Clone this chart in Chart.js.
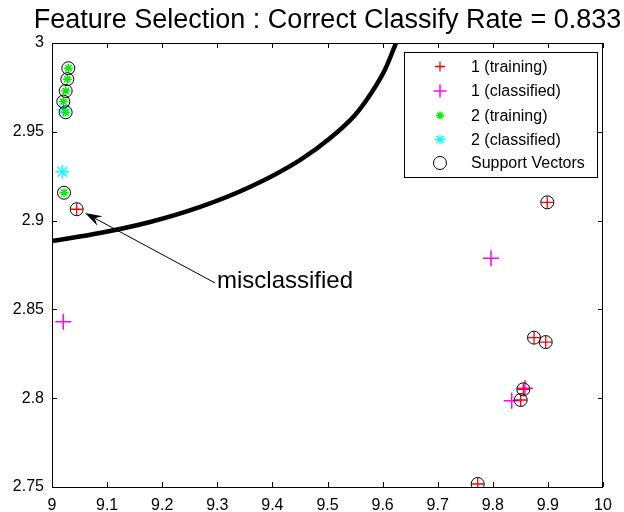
<!DOCTYPE html>
<html>
<head>
<meta charset="utf-8">
<script src="https://cdn.jsdelivr.net/npm/chart.js@4.4.1/dist/chart.umd.min.js"></script>
<style>
  html, body { margin: 0; padding: 0; background: #fff; }
  #wrap { width: 624px; height: 512px; }
</style>
</head>
<body>
<div id="wrap"><canvas id="c" width="624" height="512"></canvas></div>
<script>
// Class 1 training samples (red +)
const class1TrainX = [9.0448, 9.8989, 9.8748, 9.8960, 9.8554, 9.8506, 9.7726];
const class1TrainY = [2.9064, 2.9103, 2.8341, 2.8316, 2.8050, 2.7990, 2.7517];
// Class 1 classified samples (magenta +)
const class1ClassX = [9.0205, 9.7967, 9.8584, 9.8343];
const class1ClassY = [2.8431, 2.8788, 2.8056, 2.7986];
// Class 2 training samples (green *)
const class2TrainX = [9.0296, 9.0278, 9.0248, 9.0205, 9.0248, 9.0218];
const class2TrainY = [2.9858, 2.9796, 2.9730, 2.9670, 2.9610, 2.9157];
// Class 2 classified samples (cyan *)
const class2ClassX = [9.0209, 9.0187];
const class2ClassY = [2.9623, 2.9275];
// Support vectors (black circles)
const supportX = [9.0448, 9.8989, 9.8748, 9.8960, 9.8554, 9.8506, 9.7726,
                  9.0296, 9.0278, 9.0248, 9.0205, 9.0248, 9.0218];
const supportY = [2.9064, 2.9103, 2.8341, 2.8316, 2.8050, 2.7990, 2.7517,
                  2.9858, 2.9796, 2.9730, 2.9670, 2.9610, 2.9157];
// SVM decision boundary
const boundaryX = [9.000, 9.087, 9.178, 9.269, 9.359, 9.450, 9.505, 9.550, 9.577, 9.604, 9.623, 9.632];
const boundaryY = [2.8885, 2.8930, 2.8992, 2.9077, 2.9189, 2.9341, 2.9465, 2.9595, 2.9707, 2.9848, 2.9989, 3.0056];
// Axis ticks
const xTicks = [9, 9.1, 9.2, 9.3, 9.4, 9.5, 9.6, 9.7, 9.8, 9.9, 10];
const yTicks = [2.75, 2.8, 2.85, 2.9, 2.95, 3];
const xTickLabels = ['9', '9.1', '9.2', '9.3', '9.4', '9.5', '9.6', '9.7', '9.8', '9.9', '10'];
const yTickLabels = ['2.75', '2.8', '2.85', '2.9', '2.95', '3'];
// Legend entries
const legendLabels = ['1 (training)', '1 (classified)', '2 (training)', '2 (classified)', 'Support Vectors'];
// Arrow annotation: tip, tail and text anchor (data units)
const arrowTip = [9.0599, 2.9043];
const arrowTail = [9.2958, 2.8649];
const noteAnchor = [9.2995, 2.8660];
const noteText = 'misclassified';
const titleText = 'Feature Selection : Correct Classify Rate = 0.833';

const FONT = '"Liberation Sans", Arial, Helvetica, sans-serif';
const pts = (xs, ys) => xs.map((x, i) => ({ x: x, y: ys[i] }));

const datasets = [
  { label: legendLabels[0], data: pts(class1TrainX, class1TrainY), pointStyle: 'cross',
    radius: 6, borderColor: '#ff0000', borderWidth: 1.3, backgroundColor: '#ff0000', order: 1 },
  { label: legendLabels[1], data: pts(class1ClassX, class1ClassY), pointStyle: 'cross',
    radius: 8, borderColor: '#ff00ff', borderWidth: 1.5, backgroundColor: '#ff00ff', order: 2 },
  { label: legendLabels[2], data: pts(class2TrainX, class2TrainY), pointStyle: 'star',
    radius: 4.5, borderColor: '#00ee00', borderWidth: 1.5, backgroundColor: '#00ee00', order: 3 },
  { label: legendLabels[3], data: pts(class2ClassX, class2ClassY), pointStyle: 'star',
    radius: 7, borderColor: '#00ffff', borderWidth: 1.3, backgroundColor: '#00ffff', order: 4 },
  { label: legendLabels[4], data: pts(supportX, supportY), pointStyle: 'circle',
    radius: 6.5, borderColor: '#000000', borderWidth: 1, backgroundColor: 'rgba(0,0,0,0)', order: 0 },
  { label: 'boundary', data: pts(boundaryX, boundaryY), showLine: true, pointRadius: 0,
    borderColor: '#000000', borderWidth: 4.5, cubicInterpolationMode: 'monotone', clip: 0, order: 5 }
];

// Axes box, inward tick marks on all four sides, title, legend and annotation
const decorations = {
  id: 'decorations',
  afterDatasetsDraw(chart) {
    const { ctx, chartArea: a, scales: { x, y } } = chart;
    ctx.save();
    ctx.strokeStyle = '#000';
    ctx.lineWidth = 1;
    ctx.strokeRect(a.left + 0.5, a.top + 0.5, a.right - a.left - 1, a.bottom - a.top);
    ctx.beginPath();
    const tl = 5;
    xTicks.forEach(v => {
      const px = Math.round(x.getPixelForValue(v)) + 0.5;
      ctx.moveTo(px, a.bottom); ctx.lineTo(px, a.bottom - tl);
      ctx.moveTo(px, a.top); ctx.lineTo(px, a.top + tl);
    });
    yTicks.forEach(v => {
      const py = Math.round(y.getPixelForValue(v)) + 0.5;
      ctx.moveTo(a.left, py); ctx.lineTo(a.left + tl, py);
      ctx.moveTo(a.right, py); ctx.lineTo(a.right - tl, py);
    });
    ctx.stroke();
    ctx.restore();
  },
  afterDraw(chart) {
    const { ctx, chartArea: a, scales: { x, y } } = chart;
    ctx.save();
    // title
    ctx.fillStyle = '#000';
    ctx.font = '27px ' + FONT;
    ctx.textAlign = 'center';
    ctx.textBaseline = 'alphabetic';
    ctx.fillText(titleText, (a.left + a.right) / 2 + 0, 28);

    // annotation arrow
    const tx = x.getPixelForValue(arrowTip[0]), ty = y.getPixelForValue(arrowTip[1]);
    const sx = x.getPixelForValue(arrowTail[0]), sy = y.getPixelForValue(arrowTail[1]);
    const ang = Math.atan2(ty - sy, tx - sx);
    const ux = Math.cos(ang), uy = Math.sin(ang);
    const L = 17, W = 5.5, N = 11;
    ctx.strokeStyle = '#000';
    ctx.lineWidth = 1;
    ctx.beginPath();
    ctx.moveTo(sx, sy);
    ctx.lineTo(tx - ux * N, ty - uy * N);
    ctx.stroke();
    ctx.beginPath();
    ctx.moveTo(tx, ty);
    ctx.lineTo(tx - ux * L - uy * W, ty - uy * L + ux * W);
    ctx.lineTo(tx - ux * N, ty - uy * N);
    ctx.lineTo(tx - ux * L + uy * W, ty - uy * L - ux * W);
    ctx.closePath();
    ctx.fillStyle = '#000';
    ctx.fill();

    ctx.font = '24px ' + FONT;
    ctx.textAlign = 'left';
    ctx.textBaseline = 'middle';
    ctx.fillText(noteText, x.getPixelForValue(noteAnchor[0]), y.getPixelForValue(noteAnchor[1]));

    // legend
    const bx = 404, by = 52, bw = 193, bh = 125;
    ctx.fillStyle = '#fff';
    ctx.fillRect(bx, by, bw, bh);
    ctx.strokeStyle = '#000';
    ctx.lineWidth = 1;
    ctx.strokeRect(bx + 0.5, by + 0.5, bw, bh);
    const rows = [66.5, 91, 115.5, 139.5, 163];
    const mx = 440;
    const legendRadius = [5, 6.5, 4, 5, 6.5];
    datasets.slice(0, 5).forEach((ds, i) => {
      ctx.strokeStyle = ds.borderColor;
      ctx.fillStyle = ds.backgroundColor;
      ctx.lineWidth = ds.borderWidth;
      Chart.helpers.drawPoint(ctx, {
        pointStyle: ds.pointStyle, radius: legendRadius[i], borderWidth: ds.borderWidth, rotation: 0
      }, mx, rows[i]);
      ctx.fillStyle = '#000';
      ctx.font = '16px ' + FONT;
      ctx.textAlign = 'left';
      ctx.textBaseline = 'middle';
      ctx.fillText(ds.label, 471, rows[i] + 1);
    });
    ctx.restore();
  }
};

new Chart(document.getElementById('c'), {
  type: 'scatter',
  data: { datasets: datasets },
  options: {
    responsive: false,
    animation: false,
    layout: { padding: { top: 43, right: 21, left: 0, bottom: 0 } },
    plugins: { legend: { display: false }, tooltip: { enabled: false }, title: { display: false } },
    elements: { point: { hoverRadius: 0 } },
    scales: {
      x: {
        type: 'linear', min: 9, max: 10,
        afterBuildTicks: s => { s.ticks = xTicks.map(v => ({ value: v })); },
        afterFit: s => { s.height = 25; },
        ticks: {
          autoSkip: false, maxRotation: 0, padding: 9, color: '#000',
          font: { family: FONT, size: 16 },
          callback: (v, i) => xTickLabels[i]
        },
        grid: { display: false, drawTicks: false },
        border: { display: false }
      },
      y: {
        type: 'linear', min: 2.75, max: 3,
        afterBuildTicks: s => { s.ticks = yTicks.map(v => ({ value: v })); },
        afterFit: s => { s.width = 52; },
        ticks: {
          autoSkip: false, padding: 8, color: '#000',
          font: { family: FONT, size: 16 },
          callback: (v, i) => yTickLabels[i]
        },
        grid: { display: false, drawTicks: false },
        border: { display: false }
      }
    }
  },
  plugins: [decorations]
});
</script>
</body>
</html>
